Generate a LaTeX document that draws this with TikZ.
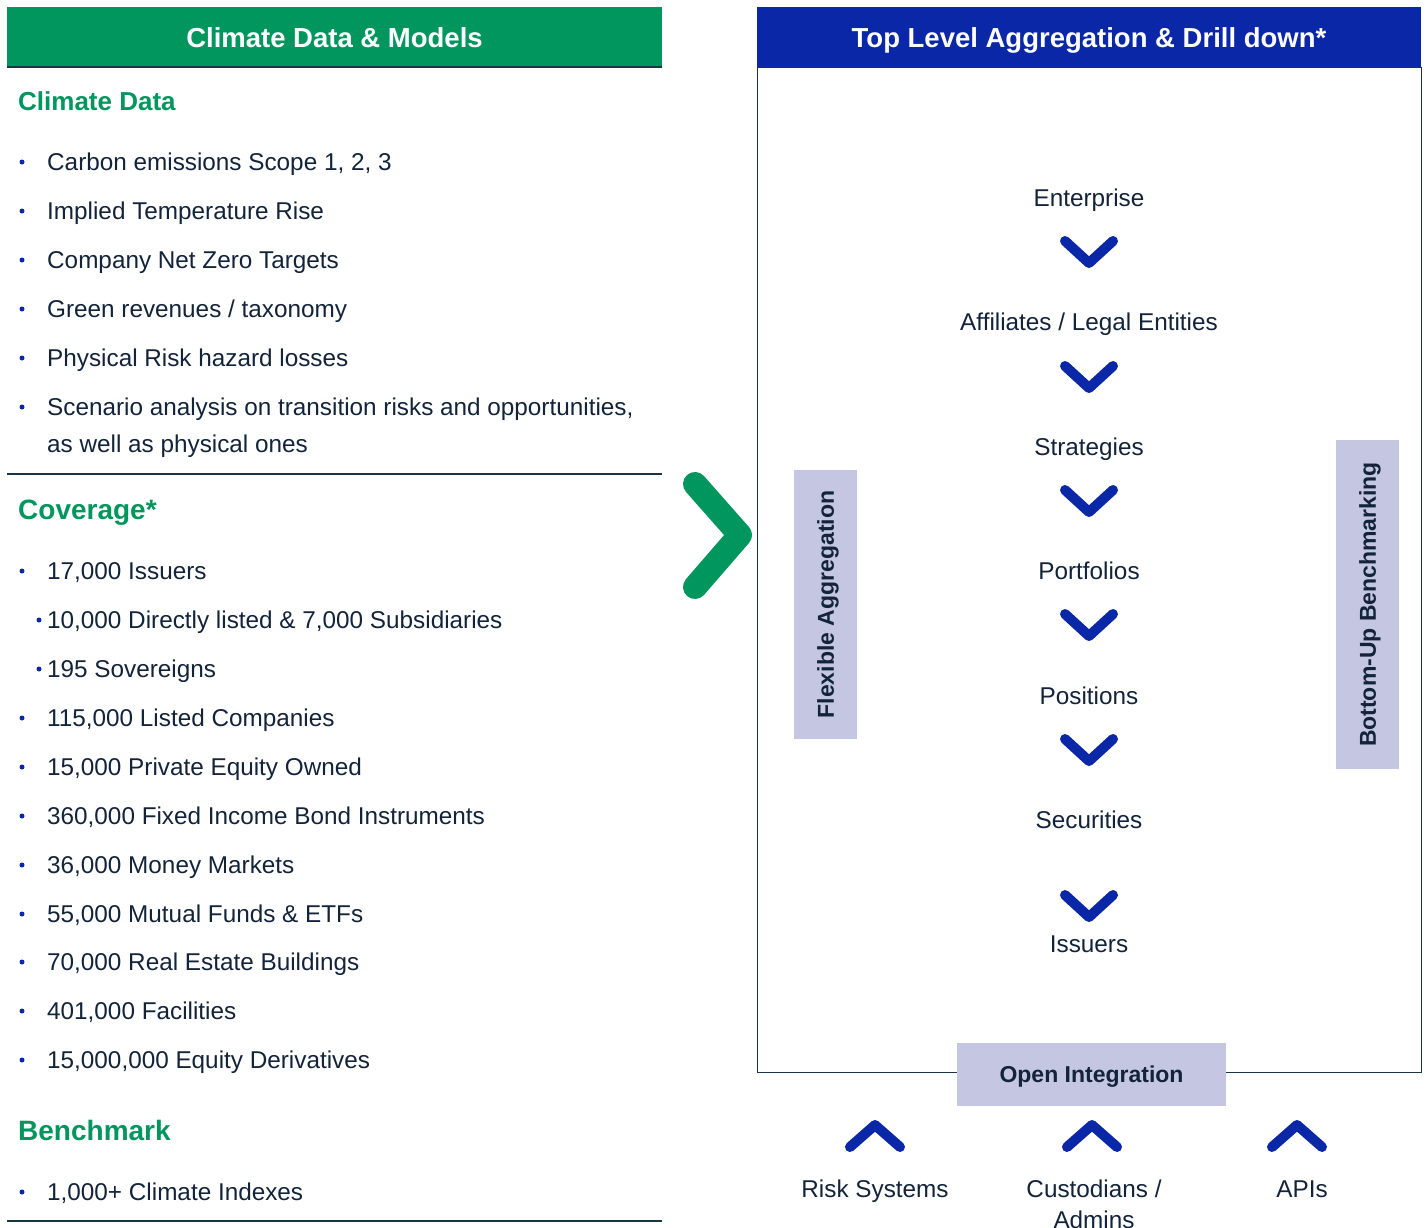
\documentclass[tikz,border=0pt]{standalone}
\usepackage{fontspec}
\setmainfont{Liberation Sans}
\definecolor{msgreen}{HTML}{00965E}
\definecolor{msblue}{HTML}{0A27A8}
\definecolor{lav}{HTML}{C5C7E2}
\definecolor{textc}{HTML}{13243A}
\definecolor{rulec}{HTML}{1B3445}
\tikzset{
  body/.style={font=\fontsize{24.3}{28}\selectfont, text=textc, inner sep=0pt, text height=17pt, text depth=0pt},
  bodyl/.style={body, anchor=west},
  hdr/.style={font=\bfseries\fontsize{27.5}{32}\selectfont, text=white, inner sep=0pt, text height=19.7pt, text depth=0pt},
  sechead/.style={font=\bfseries\fontsize{#1}{32}\selectfont, text=msgreen, inner sep=0pt, text height=0.716*#1pt, text depth=0pt, anchor=west},
  lavbox/.style={fill=lav, draw=none, inner sep=0pt, font=\bfseries\fontsize{23}{28}\selectfont, text=textc, text height=16.5pt, text depth=0pt},
  bul/.style={fill=msblue, draw=none, circle, inner sep=0pt, minimum size=5pt},
  downchev/.style={draw=msblue, line width=10pt, line cap=round, line join=round},
  greenchev/.style={draw=msgreen, line width=24pt, line cap=round, line join=round},
  rulel/.style={draw=rulec, line width=1.5pt},
}
\begin{document}
\begin{tikzpicture}[x=1pt,y=-1pt]
\useasboundingbox[fill=white] (0,0) rectangle (1426,1228);
% ---------- left column ----------
\node[fill=msgreen, minimum width=655pt, minimum height=60pt, inner sep=0pt, anchor=north west] (lhead) at (7,7) {};
\draw[rulel, line width=2pt] (lhead.south west) -- (lhead.south east);
\node[hdr] (lheadt) at (334.5,38) {Climate Data \& Models};

\node[sechead=26] (h1) at (18,101) {Climate Data};
\foreach \y/\t [count=\i] in {162/{Carbon emissions Scope 1, 2, 3},211/{Implied Temperature Rise},260/{Company Net Zero Targets},309/{Green revenues / taxonomy},358/{Physical Risk hazard losses},407/{Scenario analysis on transition risks and opportunities,}}{
  \node[bul] (cb\i) at (22,\y) {};
  \node[bodyl] (ct\i) at (47,\y) {\t};
}
\node[bodyl] (ct7) at (47,444) {as well as physical ones};
\coordinate (r1a) at (7,474); \coordinate (r1b) at (662,474);
\draw[rulel] (r1a) -- (r1b);

\node[sechead=28] (h2) at (18,509) {Coverage*};
\node[bul] (vb1) at (22,571) {}; \node[bodyl] (vt1) at (47,571) {17,000 Issuers};
\node[bul] (vb2) at (39,620) {}; \node[bodyl] (vt2) at (47,620) {10,000 Directly listed \& 7,000 Subsidiaries};
\node[bul] (vb3) at (39,669) {}; \node[bodyl] (vt3) at (47,669) {195 Sovereigns};
\foreach \y/\t [count=\i from 4] in {718/{115,000 Listed Companies},767/{15,000 Private Equity Owned},816/{360,000 Fixed Income Bond Instruments},865/{36,000 Money Markets},914/{55,000 Mutual Funds \& ETFs},962/{70,000 Real Estate Buildings},1011/{401,000 Facilities},1060/{15,000,000 Equity Derivatives}}{
  \node[bul] (vb\i) at (22,\y) {};
  \node[bodyl] (vt\i) at (47,\y) {\t};
}

\node[sechead=28] (h3) at (18,1130) {Benchmark};
\node[bul] (bb1) at (22,1192) {}; \node[bodyl] (bt1) at (47,1192) {1,000+ Climate Indexes};
\coordinate (r2a) at (7,1221); \coordinate (r2b) at (662,1221);
\draw[rulel] (r2a) -- (r2b);

% ---------- green chevron ----------
\coordinate (g1) at (695,484); \coordinate (g2) at (740,535); \coordinate (g3) at (695,587);
\draw[greenchev] (g1) -- (g2) -- (g3);

% ---------- right column ----------
\node[draw=rulec, line width=1.2pt, minimum width=664pt, minimum height=1005pt, inner sep=0pt, anchor=north west] (rbox) at (757,67) {};
\node[fill=msblue, minimum width=664pt, minimum height=60pt, inner sep=0pt, anchor=north west] (rhead) at (757,7) {};
\draw[rulel, line width=1.5pt] (rhead.south west) -- (rhead.south east);
\node[hdr] (rheadt) at (1089,38) {Top Level Aggregation \& Drill down*};

\foreach \y/\t [count=\i] in {198/Enterprise,322/{Affiliates / Legal Entities},447/Strategies,571/Portfolios,696/Positions,820/Securities,944/Issuers}{
  \node[body] (lv\i) at (1089,\y) {\t};
}
\foreach \y in {241,366,490,614,739,895}{
  \draw[downchev] (1065,\y) -- (1089,\y+22) -- (1113,\y);
}

\node[lavbox, rotate=90, minimum width=269pt, minimum height=63pt] (flex) at (825.5,604.5) {Flexible Aggregation};
\node[lavbox, rotate=90, minimum width=329pt, minimum height=63pt] (bub) at (1367.5,604.5) {Bottom-Up Benchmarking};
\node[lavbox, minimum width=269pt, minimum height=63pt] (oi) at (1091.5,1074.5) {Open Integration};

\foreach \x in {875,1092,1297}{
  \draw[downchev] (\x-25,1147) -- (\x,1125) -- (\x+25,1147);
}
\node[body] (rs) at (875,1189) {Risk Systems};
\node[body] (cu) at (1094,1189) {Custodians /};
\node[body] (ad) at (1094,1220) {Admins};
\node[body] (api) at (1302,1189) {APIs};
\end{tikzpicture}
\end{document}
